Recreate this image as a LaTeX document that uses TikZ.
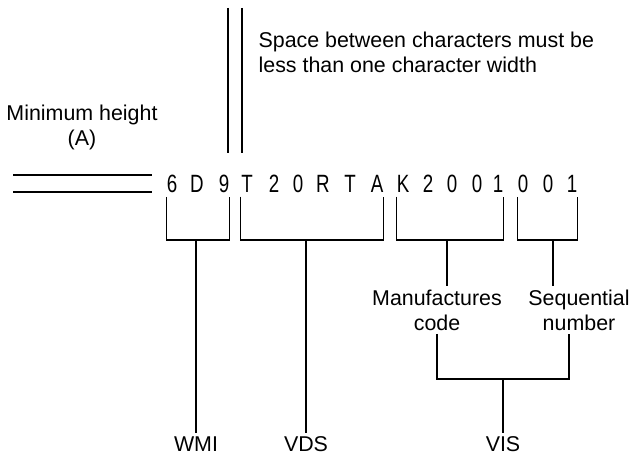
\documentclass[tikz,border=0pt]{standalone}
\usepackage{fontspec}
\usepackage{tikz}
\setmainfont{Liberation Sans}
\newfontfamily\codefont[FakeStretch=0.75]{Liberation Sans}
\definecolor{VinInk}{HTML}{000000}

\begin{document}
\begin{tikzpicture}[x=1pt,y=-1pt,line width=1.2pt,
  vinchar/.style={anchor=base,inner xsep=0pt,inner ysep=3pt,font=\codefont\fontsize{25}{25}\selectfont},
  vinlabel/.style={inner sep=3pt,align=center,font=\fontsize{21.4}{25}\selectfont}]
\path[use as bounding box] (0,0) rectangle (631,457);
\draw[VinInk] (228,8) -- (228,153);
\draw[VinInk] (242,8) -- (242,153);
\draw[VinInk] (13,175) -- (152,175);
\draw[VinInk] (13,192) -- (152,192);
\node[vinlabel,anchor=north west,align=left] (spacenote) at (255,28) {Space between characters must be\\less than one character width};
\node[vinlabel,anchor=north] (minheight) at (82,101) {Minimum height\\(A)};
\foreach \ch/\x [count=\i] in {6/172,D/197,9/224,T/247,2/274,0/298,R/323,T/350,A/377,K/403,2/428,0/452,0/477,1/498,0/523,0/548,1/572}
  \node[vinchar] (c\i) at (\x,193) {\ch};
\coordinate (wmiB) at (196,240);
\coordinate (vdsB) at (306,240);
\coordinate (mfrB) at (447,240);
\coordinate (seqB) at (553,240);
\coordinate (visB) at (503,379);
\node[vinlabel] (wmi) at (196,444) {WMI};
\node[vinlabel] (vds) at (306,444) {VDS};
\node[vinlabel] (vis) at (503,444) {VIS};
\node[vinlabel,anchor=north] (mfr) at (437,286) {Manufactures\\code};
\node[vinlabel,anchor=north] (seq) at (579,286) {Sequential\\number};
\draw[VinInk] (c1.south west) |- (wmiB) -| (c3.south east);
\draw[VinInk] (c4.south west) |- (vdsB) -| (c9.south east);
\draw[VinInk] (c10.south west) |- (mfrB) -| (c14.south east);
\draw[VinInk] (c15.south west) |- (seqB) -| (c17.south east);
\draw[VinInk] (wmiB) -- (wmi);
\draw[VinInk] (vdsB) -- (vds);
\draw[VinInk] (mfrB) -- (mfrB |- mfr.north);
\draw[VinInk] (seqB) -- (seqB |- seq.north);
\draw[VinInk] (mfr.south) |- (visB) -| ([xshift=-10pt]seq.south);
\draw[VinInk] (visB) -- (vis);
\end{tikzpicture}
\end{document}
